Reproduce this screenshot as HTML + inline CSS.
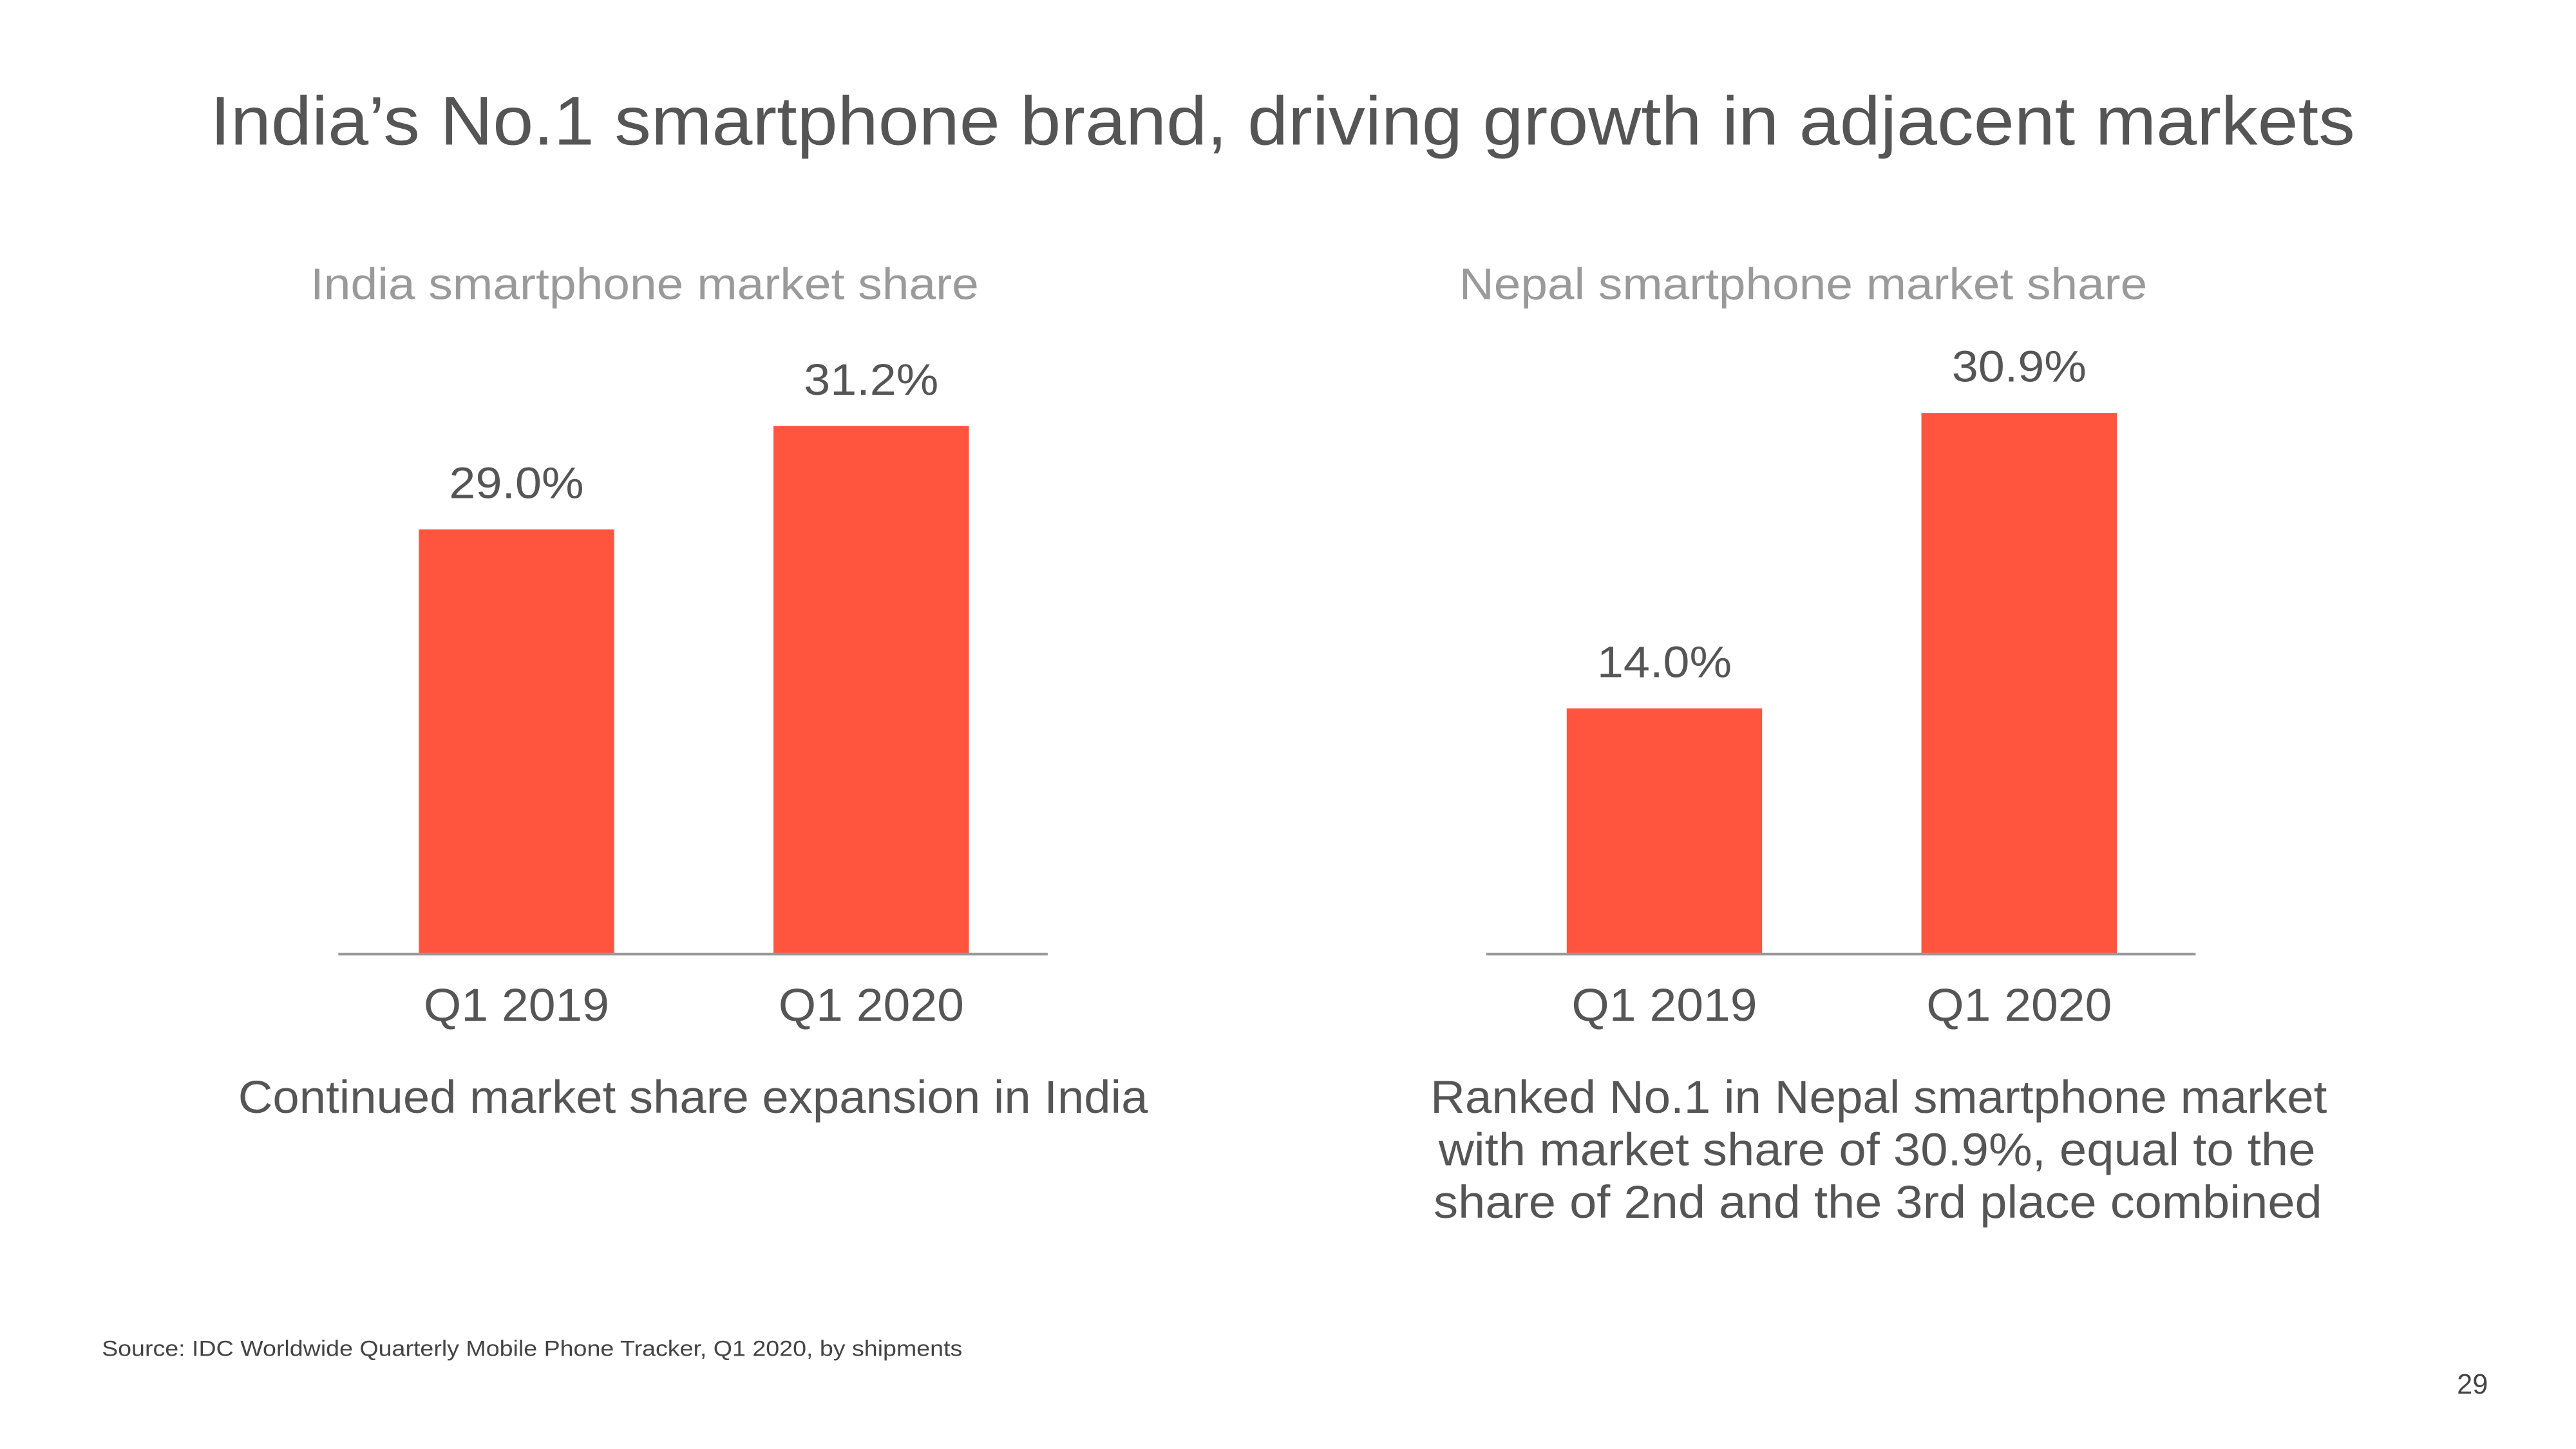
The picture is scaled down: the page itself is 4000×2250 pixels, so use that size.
<!DOCTYPE html>
<html><head><meta charset="utf-8"><style>
html,body{margin:0;padding:0;background:#fff;}
svg{display:block;font-family:"Liberation Sans","DejaVu Sans",sans-serif;}
</style></head><body>
<svg id="chart" width="4000" height="2250" viewBox="0 0 1568.6 881.6" preserveAspectRatio="none" xmlns="http://www.w3.org/2000/svg">
<rect width="1570" height="882" fill="#fff"/>
<text x="781" y="88" text-anchor="middle" font-size="42" fill="#555" textLength="1306" lengthAdjust="spacingAndGlyphs">India’s No.1 smartphone brand, driving growth in adjacent markets</text>
<text x="392.5" y="182" text-anchor="middle" font-size="27" fill="#9a9a9a" textLength="407" lengthAdjust="spacingAndGlyphs">India smartphone market share</text>
<text x="1098" y="182" text-anchor="middle" font-size="27" fill="#9a9a9a" textLength="419" lengthAdjust="spacingAndGlyphs">Nepal smartphone market share</text>
<g id="india"></g>
<g id="nepal"></g>
<text x="422" y="677" text-anchor="middle" font-size="28" fill="#555" textLength="554" lengthAdjust="spacingAndGlyphs">Continued market share expansion in India</text>
<g font-size="28" fill="#555" text-anchor="middle">
<text x="1144" y="677" textLength="546" lengthAdjust="spacingAndGlyphs">Ranked No.1 in Nepal smartphone market</text>
<text x="1143" y="709" textLength="534" lengthAdjust="spacingAndGlyphs">with market share of 30.9%, equal to the</text>
<text x="1143.5" y="741" textLength="541" lengthAdjust="spacingAndGlyphs">share of 2nd and the 3rd place combined</text>
</g>
<text x="62" y="825" font-size="13.5" fill="#444" textLength="524" lengthAdjust="spacingAndGlyphs">Source: IDC Worldwide Quarterly Mobile Phone Tracker, Q1 2020, by shipments</text>
<text x="1515" y="848" text-anchor="end" font-size="17" fill="#444">29</text>
</svg>
<script>
const categories = ["Q1 2019", "Q1 2020"];
const indiaValues = [29.0, 31.2];
const nepalValues = [14.0, 30.9];
const indiaLabels = ["29.0%", "31.2%"];
const nepalLabels = ["14.0%", "30.9%"];

const NS = "http://www.w3.org/2000/svg";
function mk(tag, attrs, parent) {
  const e = document.createElementNS(NS, tag);
  for (const k in attrs) e.setAttribute(k, attrs[k]);
  parent.appendChild(e);
  return e;
}
function drawChart(gId, left, yMin, pxPerUnit, values, labels, prefix) {
  const g = document.getElementById(gId);
  const base = 580, barW = 119, step = 216, first = left + 49;
  const y = v => base - (v - yMin) * pxPerUnit;
  values.forEach((v, i) => {
    const x = first + i * step;
    const r = mk("rect", {x: x, y: y(v), width: barW, height: base - y(v), fill: "#ff553f"}, g);
    
    
    const t = mk("text", {x: x + barW / 2, y: y(v) - 19, "text-anchor": "middle", "font-size": "27", fill: "#555", textLength: "82", lengthAdjust: "spacingAndGlyphs"}, g);
    t.textContent = labels[i];
    
    
    const c = mk("text", {x: x + barW / 2, y: 621, "text-anchor": "middle", "font-size": "28", fill: "#555", textLength: "113", lengthAdjust: "spacingAndGlyphs"}, g);
    c.textContent = categories[i];
    
    
  });
  const ax = mk("line", {x1: left, x2: left + 432, y1: base + 0.5, y2: base + 0.5, stroke: "#999", "stroke-width": "1.5"}, g);
  
  
}
drawChart("india", 206, 20, 28.65, indiaValues, indiaLabels, "india");
drawChart("nepal", 905, 0, 10.64, nepalValues, nepalLabels, "nepal");
</script>
</body></html>
